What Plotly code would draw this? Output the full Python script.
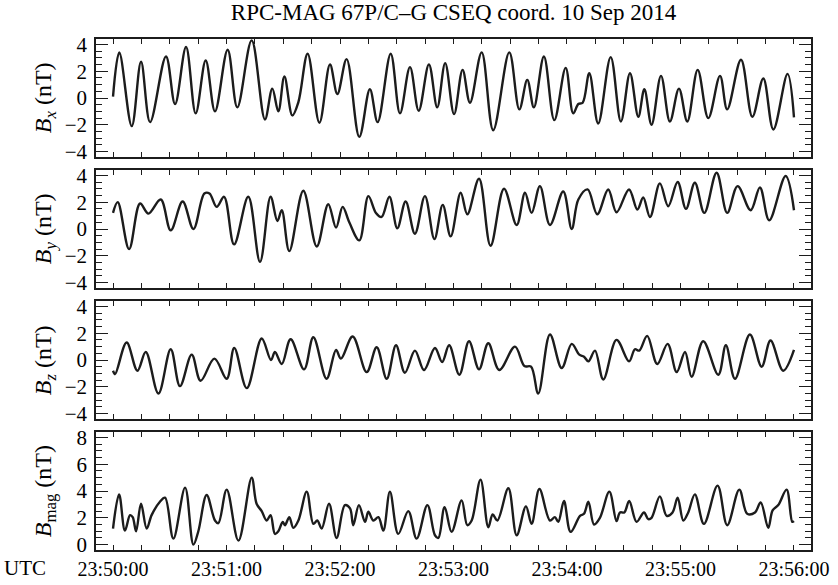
import pandas as pd
import plotly.graph_objects as go
from plotly.subplots import make_subplots

# Seconds after 23:50:00 UTC and field values (nT)
bx_t = [0, 3.3, 9.9, 14.8, 19.6, 28.0, 32.8, 38.6, 43.7, 49.0, 53.9, 60.6, 65.7, 73.3, 80.3,
        84.2, 87.4, 90.6, 94.8, 98.0, 102.9, 109.1, 114.7, 118.6, 123.5, 130.2, 135.8, 139.9,
        146.8, 151.7, 157.0, 161.6, 167.0, 171.4, 175.6, 180.3, 184.8, 188.7, 194.9, 201.0,
        209.5, 214.8, 219.0, 222.5, 227.8, 233.3, 239.3, 243.3, 246.0, 248.3, 251.8, 256.5,
        263.1, 268.5, 273.3, 277.7, 280.9, 284.7, 289.7, 294.4, 299.2, 303.6, 309.1, 314.7,
        320.9, 324.7, 332.0, 338.0, 343.8, 349.1, 356.6, 360]
bx = [0.1, 3.4, -2.1, 2.7, -1.8, 3.1, -0.45, 3.8, -1.15, 2.8, -1.0, 3.6, -0.7, 4.3, -1.6,
      0.7, -1.0, 1.6, -1.3, -0.3, 3.3, -1.85, 2.5, 0.3, 2.9, -2.9, 0.65, -1.8,
      3.3, -1.15, 2.3, -0.95, 2.5, -0.7, 2.6, -1.2, 2.1, -0.35, 3.4, -2.4,
      3.4, -0.85, 1.35, -0.7, 3.1, -1.65, 2.25, -1.15, -0.45, -0.35, 1.85, -1.9,
      3.05, -1.75, 1.85, -1.4, 0.65, -2.0, 1.65, -1.75, 0.7, -1.75, 2.1, -1.5,
      1.65, -0.85, 2.85, -1.4, 1.45, -2.35, 1.8, -1.45]

by_t = [0, 2.5, 8.5, 14.3, 18.7, 25.2, 30.5, 36.8, 42.5, 48.3, 51.0, 54.8, 58.7, 64.0, 71.5,
        77.7, 83.3, 86.9, 89.2, 93.2, 100.6, 107.7, 113.8, 117.9, 121.4, 124.9, 130.2, 135.0,
        139.0, 142.0, 146.1, 150.3, 154.7, 159.6, 164.9, 169.9, 174.3, 178.5, 183.8, 187.3,
        193.5, 199.6, 206.7, 213.4, 217.8, 221.3, 225.7, 231.0, 238.0, 242.5, 246.0, 250.9,
        256.0, 261.8, 266.2, 272.8, 277.2, 280.3, 283.9, 289.1, 293.5, 298.5, 302.9, 307.6,
        312.6, 319.1, 324.7, 330.2, 337.1, 342.0, 346.9, 355.6, 360]
by = [1.2, 2.0, -1.5, 1.9, 1.15, 2.2, -0.1, 2.05, 0.0, 2.65, 2.65, 1.65, 2.4, -1.15, 2.4,
      -2.45, 2.4, 0.6, 1.4, -1.65, 2.85, -1.3, 1.85, 0.1, 1.65, 0.5, -0.85, 2.45,
      1.2, 0.9, 2.4, 0.05, 2.05, -0.35, 2.45, -0.75, 1.8, -0.55, 2.7, 1.1,
      3.75, -1.25, 3.0, 0.3, 2.7, 1.2, 3.2, 0.3, 2.8, 0.0, 2.2, 2.95,
      1.1, 2.95, 1.25, 2.95, 1.45, 2.35, 0.9, 3.4, 1.7, 3.5, 1.5, 3.45,
      1.2, 4.2, 1.2, 3.2, 1.4, 3.1, 0.65, 3.95, 1.4]

bz_t = [0, 1.1, 7.2, 12.9, 17.3, 24.0, 30.5, 35.4, 41.6, 46.3, 53.6, 60.1, 64.1, 70.7, 78.6,
        83.5, 85.6, 89.2, 93.9, 101.0, 105.9, 112.9, 117.9, 120.5, 126.7, 134.1, 139.4, 144.7,
        149.6, 154.3, 159.6, 164.4, 170.2, 174.0, 177.7, 183.1, 188.2, 193.5, 198.4, 204.2,
        212.5, 217.5, 221.0, 224.8, 231.0, 237.2, 242.5, 246.5, 249.0, 251.3, 254.8, 259.2,
        266.2, 272.8, 275.9, 278.2, 282.4, 287.7, 293.2, 298.0, 302.4, 305.9, 312.0, 320.0,
        324.0, 328.8, 336.7, 342.9, 347.6, 354.3, 360]
bz = [-0.8, -1.05, 1.3, -0.8, 0.6, -2.5, 0.8, -1.95, 0.4, -1.55, 0.1, -1.4, 0.9, -2.1, 1.6,
      0.0, 0.6, -0.3, 1.55, -0.7, 1.7, -1.4, 0.75, 0.1, 1.75, -0.9, 0.95, -1.4,
      1.1, -0.95, 0.7, -0.75, 0.9, -0.15, 1.1, -1.1, 1.4, -0.7, 1.25, -0.75,
      1.0, -0.45, -0.5, -2.5, 1.9, -0.6, 1.2, 0.4, 0.25, -0.1, 0.7, -1.45,
      1.5, -0.1, 0.8, 0.7, 1.8, -0.3, 1.2, -0.9, 0.6, -1.25, 1.4, -1.1,
      1.1, -1.4, 1.9, -0.5, 1.45, -0.8, 0.75]

bmag_t = [0, 3.2, 6.3, 9.0, 10.4, 12.2, 14.8, 17.8, 20.4, 24.8, 27.5, 31.9, 38.1, 42.5, 45.1,
          49.5, 53.9, 55.7, 60.1, 66.3, 73.3, 75.9, 78.6, 81.2, 83.3, 85.6, 87.4, 89.7, 90.9,
          93.2, 95.3, 98.0, 102.4, 105.9, 108.0, 110.3, 114.2, 118.2, 122.6, 125.3, 127.0,
          130.0, 133.2, 135.0, 137.6, 140.3, 142.9, 146.4, 150.8, 156.1, 160.5, 166.2, 170.2,
          172.0, 175.3, 179.0, 184.3, 187.3, 189.6, 194.3, 198.4, 200.7, 203.2, 209.0, 213.4,
          218.3, 221.3, 225.4, 231.0, 233.6, 235.4, 238.4, 241.9, 246.9, 249.0, 251.3, 254.3,
          257.4, 262.4, 266.2, 268.0, 270.3, 272.9, 276.8, 280.7, 283.0, 284.7, 289.1, 292.7,
          295.8, 298.5, 301.5, 304.1, 307.6, 312.4, 319.6, 324.7, 331.1, 335.3, 339.4, 342.4,
          346.4, 348.7, 351.7, 356.1, 359.1, 360]
bmag = [1.2, 3.75, 1.05, 2.2, 2.05, 1.0, 3.05, 1.2, 2.2, 3.2, 3.5, 0.45, 4.25, 0.0, 1.0,
        3.7, 1.8, 1.6, 4.1, 0.3, 5.0, 3.05, 2.5, 1.8, 2.2, 0.8, 1.0, 1.7, 1.45,
        2.05, 1.25, 1.8, 3.95, 1.55, 1.8, 1.2, 3.05, 0.5, 2.95, 2.7, 1.45,
        2.95, 1.7, 2.45, 1.8, 2.05, 1.05, 3.95, 0.8, 2.5, 0.45, 2.95, 0.7,
        0.5, 2.8, 0.95, 3.3, 1.45, 1.8, 4.85, 1.3, 2.25, 1.8, 4.2, 0.7,
        2.85, 1.55, 4.15, 1.8, 2.05, 1.7, 3.25, 0.95, 2.15, 2.3, 3.2, 1.5,
        2.0, 3.95, 1.75, 2.4, 2.4, 3.25, 1.7, 2.4, 1.9, 2.0, 3.6, 2.15,
        2.4, 3.5, 1.8, 2.4, 3.75, 1.55, 4.4, 1.45, 4.1, 2.3, 2.4, 3.15,
        1.25, 2.55, 2.95, 4.1, 1.7, 1.75]

panel_titles = ["<i>B</i><sub><i>x</i></sub> (nT)", "<i>B</i><sub><i>y</i></sub> (nT)",
                "<i>B</i><sub><i>z</i></sub> (nT)", "<i>B</i><sub>mag</sub> (nT)"]
panel_ranges = [[-4.4, 4.4], [-4.4, 4.4], [-4.4, 4.4], [-0.4, 8.4]]
title_text = "RPC-MAG 67P/C\u2013G CSEQ coord. 10 Sep 2014"

start = pd.Timestamp("2014-09-10 23:50:00")


def to_time(secs):
    return [start + pd.Timedelta(seconds=s) for s in secs]


series = [(bx_t, bx), (by_t, by), (bz_t, bz), (bmag_t, bmag)]

FONT = "Liberation Serif"
INK = "#1c1c1c"

fig = make_subplots(rows=4, cols=1, shared_xaxes=True, vertical_spacing=13 / 511)

for i, (ts, vals) in enumerate(series, start=1):
    fig.add_trace(
        go.Scatter(x=to_time(ts), y=vals, mode="lines",
                   line=dict(color=INK, width=2.4, shape="spline", smoothing=1.0),
                   showlegend=False, hoverinfo="skip"),
        row=i, col=1)
    fig.update_yaxes(
        range=panel_ranges[i - 1], dtick=2, tick0=0,
        ticks="inside", ticklen=12, tickwidth=1.3, tickcolor=INK,
        minor=dict(dtick=0.5, ticks="inside", ticklen=6, tickwidth=1.1, tickcolor=INK),
        showline=True, linecolor=INK, linewidth=1.6, mirror="allticks",
        showgrid=False, zeroline=False, automargin=False,
        ticklabelstandoff=3,
        tickfont=dict(family=FONT, size=21, color="black"),
        row=i, col=1)
    fig.update_xaxes(
        range=[start - pd.Timedelta(seconds=9), start + pd.Timedelta(seconds=369)],
        tick0=start, dtick=60000, tickformat="%H:%M:%S",
        ticks="inside", ticklen=5, tickwidth=1.2, tickcolor=INK,
        minor=dict(dtick=15000, ticks="inside", ticklen=5, tickwidth=1.1, tickcolor=INK),
        showline=True, linecolor=INK, linewidth=1.6, mirror="allticks",
        showgrid=False, zeroline=False, automargin=False,
        showticklabels=(i == 4),
        ticklabelstandoff=0,
        tickfont=dict(family=FONT, size=20, color="black"),
        row=i, col=1)

# Panel labels on the left, rotated
for i, txt in enumerate(panel_titles):
    dom = fig.layout["yaxis" + ("" if i == 0 else str(i + 1))].domain
    fig.add_annotation(text=txt, xref="paper", yref="paper",
                       x=-0.071, y=(dom[0] + dom[1]) / 2, textangle=-90,
                       xanchor="center", yanchor="middle", showarrow=False,
                       font=dict(family=FONT, size=24, color="black"))

fig.add_annotation(text="UTC", xref="paper", yref="paper", x=-0.099, y=-0.036,
                   xanchor="center", yanchor="middle", showarrow=False,
                   font=dict(family=FONT, size=21, color="black"))

fig.update_layout(
    width=838, height=585,
    margin=dict(l=96, r=27, t=39, b=35, autoexpand=False),
    paper_bgcolor="white", plot_bgcolor="white",
    title=dict(text=title_text, x=0.5, xref="paper", y=1 - 12 / 585,
               yref="container", xanchor="center", yanchor="middle",
               font=dict(family=FONT, size=23, color="black")),
)

fig.write_html("out.html")
